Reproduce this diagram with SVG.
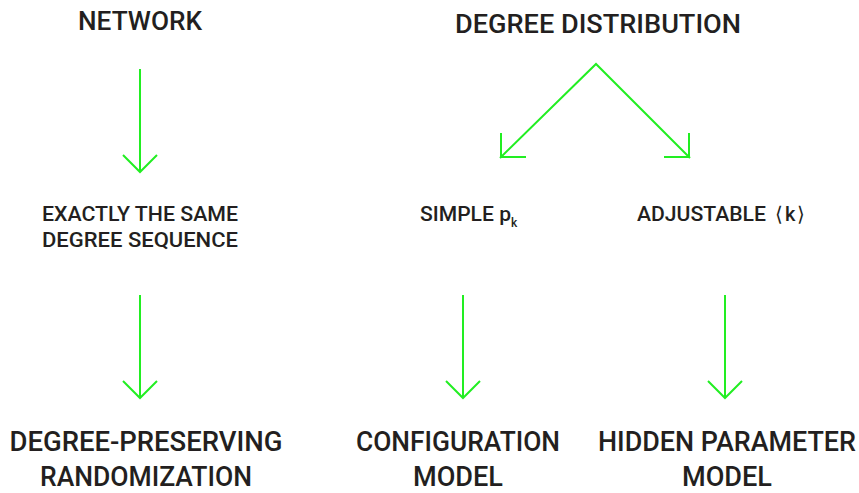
<svg xmlns="http://www.w3.org/2000/svg" width="859" height="493" viewBox="0 0 859 493">
<style>
text{font-family:Roboto,"Liberation Sans",Arial,sans-serif;font-weight:500;fill:#231f20;text-anchor:middle}
.t{font-size:25px}
.m{font-size:20px}
.b{font-size:27px}
.c line,.c polyline{stroke:#22ee22;stroke-width:2;fill:none}
</style>
<rect width="859" height="493" fill="#fff"/>
<g id="network"><text class="t" x="140" y="30" textLength="124" lengthAdjust="spacingAndGlyphs">NETWORK</text></g>
<g id="degree-distribution"><text class="t" x="598" y="33" textLength="286" lengthAdjust="spacingAndGlyphs">DEGREE DISTRIBUTION</text></g>
<g id="exact-sequence">
<text class="m" x="140" y="221" textLength="196" lengthAdjust="spacingAndGlyphs">EXACTLY THE SAME</text>
<text class="m" x="140" y="247" textLength="196" lengthAdjust="spacingAndGlyphs">DEGREE SEQUENCE</text>
</g>
<g id="simple-pk"><text class="m" x="420" y="221" style="text-anchor:start"><tspan textLength="91" lengthAdjust="spacingAndGlyphs">SIMPLE p</tspan><tspan font-size="12" dy="6">k</tspan></text></g>
<g id="adjustable-k"><text class="m" x="637" y="221" style="text-anchor:start"><tspan textLength="129" lengthAdjust="spacingAndGlyphs">ADJUSTABLE</tspan><tspan dx="9" font-weight="300">⟨</tspan><tspan dx="2">k</tspan><tspan dx="2" font-weight="300">⟩</tspan></text></g>
<g id="degree-preserving">
<text class="b" x="146" y="451" textLength="273" lengthAdjust="spacingAndGlyphs">DEGREE-PRESERVING</text>
<text class="b" x="146" y="486" textLength="212" lengthAdjust="spacingAndGlyphs">RANDOMIZATION</text>
</g>
<g id="configuration-model">
<text class="b" x="458" y="451" textLength="204" lengthAdjust="spacingAndGlyphs">CONFIGURATION</text>
<text class="b" x="458" y="486" textLength="90" lengthAdjust="spacingAndGlyphs">MODEL</text>
</g>
<g id="hidden-parameter-model">
<text class="b" x="727" y="451" textLength="258" lengthAdjust="spacingAndGlyphs">HIDDEN PARAMETER</text>
<text class="b" x="727" y="486" textLength="90" lengthAdjust="spacingAndGlyphs">MODEL</text>
</g>
<g id="connectors" class="c">
<line x1="140" y1="69" x2="140" y2="172"/><polyline points="123,155 140,172 157,155"/>
<line x1="140" y1="295" x2="140" y2="398"/><polyline points="123,381 140,398 157,381"/>
<line x1="463" y1="295" x2="463" y2="398"/><polyline points="446,381 463,398 480,381"/>
<line x1="725" y1="295" x2="725" y2="398"/><polyline points="708,381 725,398 742,381"/>
<polyline points="500,158 596,64 690,158"/>
<polyline points="501,133 501,157 526,157"/>
<polyline points="689,133 689,157 664,157"/>
</g>
</svg>
